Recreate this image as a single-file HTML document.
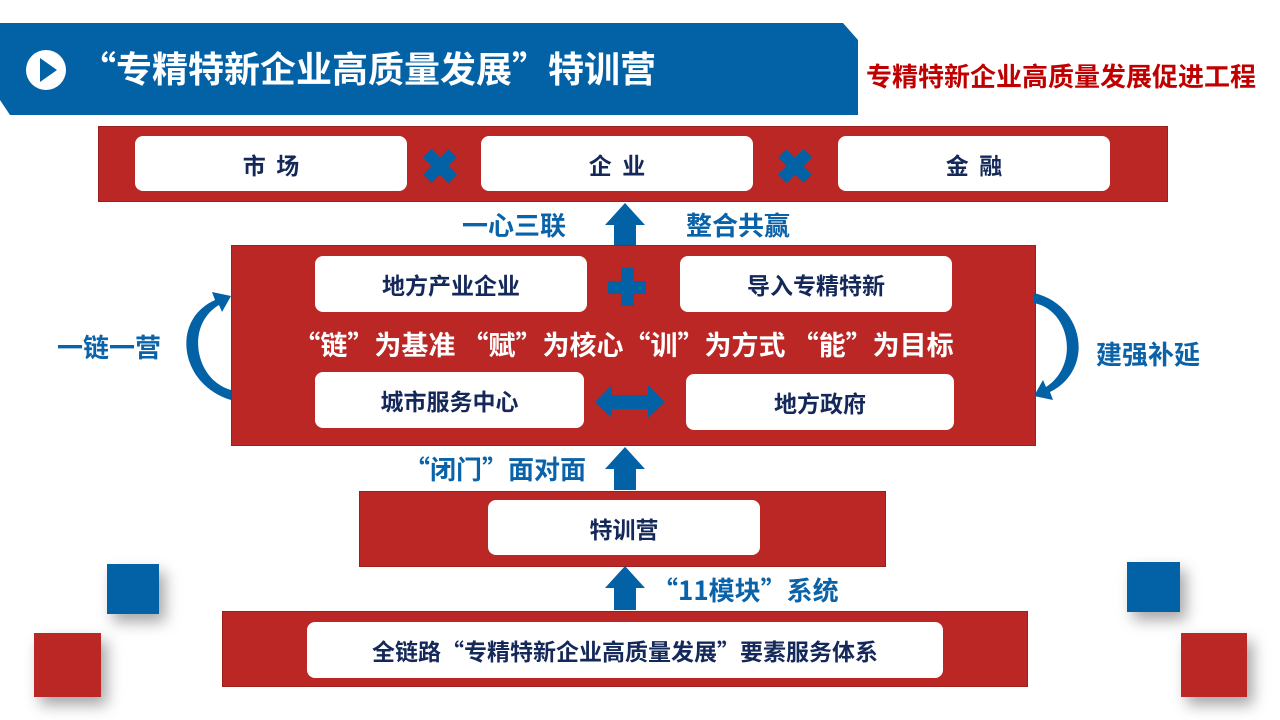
<!DOCTYPE html><html><head><meta charset="utf-8"><style>
body{margin:0;width:1280px;height:720px;background:#fff;position:relative;overflow:hidden;font-family:"Noto Sans CJK SC","Liberation Sans",sans-serif;font-weight:bold}
.a{position:absolute}
.red{position:absolute;background:#BA2725;border:1px solid #9a1f1d}
.w{position:absolute;background:#fff;border-radius:8px;color:#14285a;font-size:23px;display:flex;align-items:center;justify-content:center;white-space:pre}
.bl{position:absolute;color:#0a62a8;font-size:26px;white-space:nowrap;line-height:1}
.sq{position:absolute;box-shadow:6px 8px 14px rgba(0,0,0,.35)}
</style></head><body>
<svg class="a" style="left:0;top:0" width="1280" height="720">
<polygon points="0,23 843,23 858,40 858,115 10,115 0,100" fill="#0361A6"/>
<circle cx="46" cy="70" r="20" fill="#fff"/><polygon points="40,58 40,82 57,70" fill="#0361A6"/>
</svg>
<div class="a" style="left:80px;top:48px;color:#fff;font-size:36px;line-height:1.1;white-space:nowrap">“专精特新企业高质量发展”特训营</div>
<div class="a" style="left:866px;top:62px;color:#c00000;font-size:26px;line-height:1.1;white-space:nowrap">专精特新企业高质量发展促进工程</div>

<div class="red" style="left:98px;top:126px;width:1068px;height:74px"></div>
<div class="w" style="left:135px;top:136px;width:272px;height:55px">市  场</div>
<div class="w" style="left:481px;top:136px;width:272px;height:55px">企  业</div>
<div class="w" style="left:838px;top:136px;width:272px;height:55px">金  融</div>

<div class="red" style="left:231px;top:245px;width:803px;height:199px"></div>
<div class="w" style="left:315px;top:256px;width:272px;height:56px">地方产业企业</div>
<div class="w" style="left:680px;top:256px;width:272px;height:56px">导入专精特新</div>
<div class="w" style="left:315px;top:372px;width:269px;height:56px">城市服务中心</div>
<div class="w" style="left:686px;top:374px;width:268px;height:56px">地方政府</div>
<div class="a" style="left:222px;top:329px;width:803px;text-align:center;color:#fff;font-size:27px;line-height:1.1;white-space:pre">“链”为基准 “赋”为核心“训”为方式 “能”为目标</div>

<div class="red" style="left:359px;top:491px;width:525px;height:74px"></div>
<div class="w" style="left:488px;top:500px;width:272px;height:55px">特训营</div>
<div class="red" style="left:222px;top:611px;width:804px;height:74px"></div>
<div class="w" style="left:307px;top:622px;width:636px;height:56px">全链路“专精特新企业高质量发展”要素服务体系</div>

<svg class="a" style="left:0;top:0" width="1280" height="720">
<g fill="#0361A6">
<g transform="translate(440,166) rotate(45)"><rect x="-18" y="-6" width="36" height="12"/><rect x="-6" y="-18" width="12" height="36"/></g>
<g transform="translate(795,166) rotate(45)"><rect x="-18" y="-6" width="36" height="12"/><rect x="-6" y="-18" width="12" height="36"/></g>
<rect x="608" y="281" width="38" height="13"/><rect x="621" y="268" width="13" height="38"/>
<polygon points="595,402 612,385 612,395 648,395 648,385 665,402 648,418 648,409 612,409 612,418"/>
<polygon points="605,225 625,203 645,225 636,225 636,245 614,245 614,225"/>
<polygon points="605,469 625,447 645,469 636,469 636,490 614,490 614,469"/>
<polygon points="605,588 625,566 645,588 636,588 636,610 614,610 614,588"/>
<path d="M231,400 C180,385 170,320 215,300 L212,292 L231,296 L222,312 L219,305 C185,325 195,380 231,390Z"/>
<path d="M1034,293 C1085,305 1095,370 1050,392 L1053,400 L1034,396 L1043,380 L1046,387 C1080,365 1070,310 1034,303Z"/>
</g>
</svg>
<div class="bl" style="left:462px;top:212px">一心三联</div>
<div class="bl" style="left:686px;top:212px">整合共赢</div>
<div class="bl" style="left:57px;top:334px">一链一营</div>
<div class="bl" style="left:1096px;top:341px">建强补延</div>
<div class="bl" style="left:404px;top:456px">“闭门”面对面</div>
<div class="bl" style="left:652px;top:577px">“11模块”系统</div>

<div class="sq" style="left:107px;top:564px;width:52px;height:50px;background:#0361A6"></div>
<div class="sq" style="left:34px;top:633px;width:67px;height:64px;background:#BA2725"></div>
<div class="sq" style="left:1127px;top:562px;width:53px;height:50px;background:#0361A6"></div>
<div class="sq" style="left:1181px;top:633px;width:66px;height:64px;background:#BA2725"></div>
</body></html>
